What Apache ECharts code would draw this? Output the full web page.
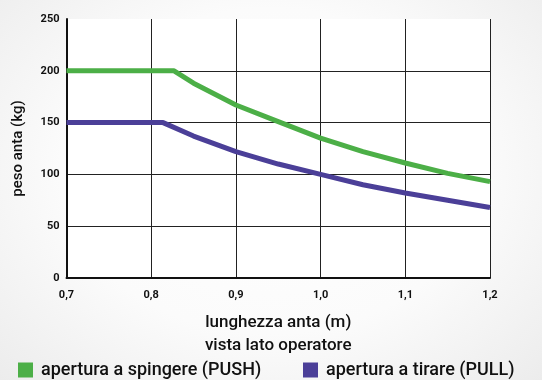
<!DOCTYPE html>
<html>
<head>
<meta charset="utf-8">
<script src="https://cdn.jsdelivr.net/npm/echarts@6/dist/echarts.min.js"></script>
<style>
  html, body { margin: 0; padding: 0; }
  body {
    width: 542px; height: 380px; overflow: hidden;
    background: radial-gradient(ellipse at 50% 45%, #ffffff 0%, #fbfbfb 55%, #ececec 100%);
  }
  #chart { width: 542px; height: 380px; }
</style>
</head>
<body>
<div id="chart"></div>
<script>
// door leaf length (m) and maximum leaf weight (kg)
const pushLength = [0.7, 0.827, 0.85, 0.9, 0.95, 1.0, 1.05, 1.1, 1.15, 1.2];
const pushWeight = [200, 200, 188, 167, 151, 135, 122, 111, 101, 93];
const pullLength = [0.7, 0.814, 0.85, 0.9, 0.95, 1.0, 1.05, 1.1, 1.15, 1.2];
const pullWeight = [150, 150, 137, 122, 110, 100, 90, 82, 75, 68];

const pushName = 'apertura a spingere (PUSH)';
const pullName = 'apertura a tirare (PULL)';
const xAxisTitle = 'lunghezza anta (m)\nvista lato operatore';
const yAxisTitle = 'peso anta (kg)';

const FONT = 'Roboto, "DejaVu Sans", sans-serif';
const GREEN = '#4caf47';
const PURPLE = '#4b3f98';

const pairs = (xs, ys) => xs.map((x, i) => [x, ys[i]]);

const legendText = { fontFamily: FONT, fontSize: 18, fontWeight: 500, color: '#111', padding: [0, 0, 0, 3] };

const chart = echarts.init(document.getElementById('chart'), null, { renderer: 'canvas' });
chart.setOption({
  backgroundColor: 'transparent',
  animation: false,
  textStyle: { fontFamily: FONT },
  grid: {
    left: 66.5, right: 52, top: 19, bottom: 102,
    show: true, backgroundColor: '#ffffff', borderWidth: 0
  },
  legend: [
    {
      data: [pushName], left: 18, top: 361, icon: 'rect',
      itemWidth: 15, itemHeight: 15, itemGap: 0, padding: 0, textStyle: legendText
    },
    {
      data: [pullName], left: 303, top: 361, icon: 'rect',
      itemWidth: 15, itemHeight: 15, itemGap: 0, padding: 0, textStyle: legendText
    }
  ],
  xAxis: {
    type: 'value', min: 0.7, max: 1.2, interval: 0.1,
    name: xAxisTitle, nameLocation: 'middle', nameGap: 33,
    nameTextStyle: { fontFamily: FONT, fontSize: 17, fontWeight: 500, color: '#111', lineHeight: 23 },
    axisLine: { show: true, lineStyle: { color: '#111', width: 2 } },
    axisTick: { show: false },
    axisLabel: {
      margin: 12, fontFamily: FONT, fontSize: 11, fontWeight: 'bold', color: '#111',
      formatter: v => v.toFixed(1).replace('.', ',')
    },
    splitLine: { show: true, showMinLine: false, lineStyle: { color: '#222', width: 1 } }
  },
  yAxis: {
    type: 'value', min: 0, max: 250, interval: 50,
    name: yAxisTitle, nameLocation: 'middle', nameGap: 41, nameRotate: 90,
    nameTextStyle: { fontFamily: FONT, fontSize: 15, fontWeight: 500, color: '#111' },
    axisLine: { show: true, lineStyle: { color: '#111', width: 2 } },
    axisTick: { show: false },
    axisLabel: { margin: 7, fontFamily: FONT, fontSize: 11, fontWeight: 'bold', color: '#111' },
    splitLine: { show: true, showMinLine: false, showMaxLine: false, lineStyle: { color: '#222', width: 1 } }
  },
  series: [
    {
      name: pushName, type: 'line', data: pairs(pushLength, pushWeight),
      smooth: false, symbol: 'none', color: GREEN,
      lineStyle: { color: GREEN, width: 5, join: 'round' }
    },
    {
      name: pullName, type: 'line', data: pairs(pullLength, pullWeight),
      smooth: false, symbol: 'none', color: PURPLE,
      lineStyle: { color: PURPLE, width: 5, join: 'round' }
    }
  ]
});
</script>
</body>
</html>
